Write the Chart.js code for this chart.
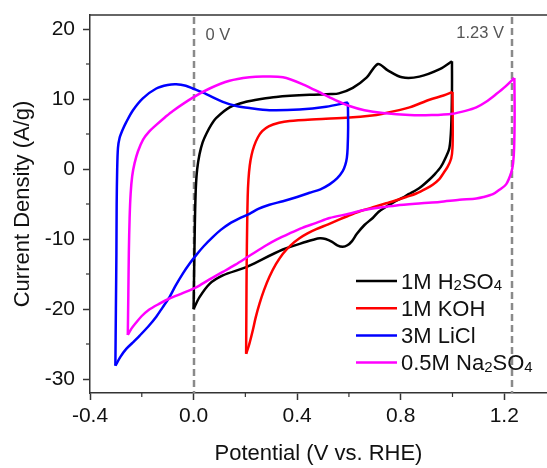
<!DOCTYPE html>
<html>
<head>
<meta charset="utf-8">
<script src="https://cdn.jsdelivr.net/npm/chart.js@4.4.1/dist/chart.umd.min.js"></script>
<style>
  html, body { margin: 0; padding: 0; background: #fff; }
  canvas { display: block; }
</style>
</head>
<body>
<canvas id="cvChart" width="547" height="468"></canvas>
<script>
// CV curves: [potential (V vs RHE), current density (A/g)]
const h2so4Fwd = [[0.000,-20.0],[0.002,-15],[0.004,-10],[0.006,-6],[0.009,-2.5],[0.014,0],[0.023,2.1],[0.035,3.8],[0.049,5.0],[0.068,6.3],[0.088,7.3],[0.139,8.8],[0.203,9.6],[0.26,10.0],[0.319,10.3],[0.448,10.6],[0.53,10.7],[0.561,10.8],[0.615,11.6],[0.669,13.1],[0.712,15.0],[0.750,14.1],[0.805,13.1],[0.872,13.2],[0.953,14.3],[0.998,15.4]];
const h2so4Rev = [[0.998,15.4],[0.998,11.0],[0.995,6.0],[0.988,3.0],[0.972,1.5],[0.955,0.3],[0.930,-0.8],[0.911,-1.5],[0.880,-2.5],[0.860,-3.0],[0.830,-3.6],[0.808,-4.1],[0.775,-4.7],[0.744,-5.4],[0.715,-6.1],[0.692,-7.0],[0.660,-8.0],[0.630,-9.3],[0.612,-10.3],[0.594,-10.9],[0.576,-11.1],[0.555,-10.9],[0.535,-10.4],[0.510,-10.0],[0.488,-9.9],[0.462,-10.1],[0.435,-10.4],[0.345,-11.5],[0.216,-13.8],[0.190,-14.2],[0.113,-15.2],[0.062,-16.4],[0.023,-18.3],[0.000,-20.0]];
const kohFwd = [[0.203,-26.4],[0.204,-20],[0.205,-14],[0.207,-8],[0.209,-4],[0.212,-1.5],[0.217,0.5],[0.224,2.0],[0.234,3.3],[0.248,4.5],[0.265,5.4],[0.29,6.1],[0.33,6.6],[0.371,6.85],[0.474,7.1],[0.602,7.35],[0.68,7.6],[0.731,7.9],[0.834,8.8],[0.911,9.9],[0.965,10.5],[1.0,11.0]];
const kohRev = [[1.0,11.0],[1.001,6],[1.0,3.0],[0.995,1.5],[0.981,0.3],[0.965,-0.6],[0.950,-1.4],[0.925,-2.2],[0.898,-2.8],[0.86,-3.5],[0.821,-4.0],[0.78,-4.5],[0.744,-4.9],[0.7,-5.4],[0.654,-5.9],[0.61,-6.5],[0.564,-7.2],[0.52,-7.9],[0.474,-8.6],[0.44,-9.2],[0.409,-9.9],[0.375,-10.9],[0.345,-12.1],[0.318,-13.6],[0.293,-15.4],[0.272,-17.3],[0.255,-19.2],[0.24,-21.2],[0.229,-23.0],[0.216,-24.9],[0.203,-26.4]];
const liclFwd = [[-0.302,-28.1],[-0.300,-20],[-0.298,-12],[-0.297,-5],[-0.295,0],[-0.292,3.0],[-0.286,4.4],[-0.274,5.6],[-0.260,6.7],[-0.234,8.4],[-0.196,10.1],[-0.144,11.5],[-0.1,12.0],[-0.067,12.1],[-0.03,11.9],[-0.003,11.5],[0.049,10.7],[0.113,9.6],[0.165,9.0],[0.216,8.7],[0.293,8.4],[0.409,8.5],[0.512,8.9],[0.596,9.5]];
const liclRev = [[0.596,9.5],[0.597,6],[0.595,3],[0.592,1.6],[0.586,0.6],[0.576,-0.3],[0.555,-1.3],[0.525,-2.2],[0.49,-2.9],[0.448,-3.4],[0.4,-4.0],[0.345,-4.6],[0.293,-5.1],[0.25,-5.7],[0.216,-6.4],[0.175,-7.1],[0.139,-7.8],[0.105,-8.7],[0.075,-9.7],[0.04,-11.0],[0.010,-12.3],[-0.015,-13.5],[-0.041,-14.9],[-0.07,-16.7],[-0.093,-18.3],[-0.12,-19.8],[-0.144,-21.1],[-0.175,-22.5],[-0.208,-23.8],[-0.235,-24.8],[-0.260,-25.7],[-0.282,-26.8],[-0.302,-28.1]];
const na2so4Fwd = [[-0.254,-23.7],[-0.252,-18],[-0.250,-12],[-0.247,-7],[-0.243,-3.5],[-0.237,-1.0],[-0.228,0.8],[-0.215,2.5],[-0.195,4.2],[-0.17,5.4],[-0.144,6.3],[-0.11,7.4],[-0.080,8.3],[-0.003,10.2],[0.062,11.5],[0.139,12.6],[0.216,13.1],[0.268,13.2],[0.345,13.1],[0.422,12.1],[0.5,10.7],[0.55,9.8],[0.602,9.0],[0.66,8.4],[0.731,8.0],[0.834,7.7],[0.92,7.7],[1.001,7.9],[1.05,8.3],[1.092,8.8],[1.13,9.6],[1.169,10.7],[1.205,11.8],[1.239,13.0]];
const na2so4Rev = [[1.239,13.0],[1.240,8.0],[1.238,3.0],[1.234,0.8],[1.227,-0.5],[1.207,-2.2],[1.18,-3.0],[1.156,-3.6],[1.12,-4.0],[1.092,-4.2],[1.027,-4.4],[0.95,-4.7],[0.88,-4.9],[0.783,-5.2],[0.72,-5.5],[0.654,-5.9],[0.6,-6.4],[0.525,-7.0],[0.474,-7.7],[0.42,-8.4],[0.371,-9.2],[0.32,-10.1],[0.281,-10.9],[0.216,-12.4],[0.16,-13.7],[0.113,-14.7],[0.06,-15.8],[0.010,-16.9],[-0.04,-17.7],[-0.093,-18.5],[-0.135,-19.3],[-0.176,-20.2],[-0.2,-21.0],[-0.221,-21.9],[-0.240,-22.8],[-0.254,-23.7]];

const seriesNames = ['1M H₂SO₄', '1M KOH', '3M LiCl', '0.5M Na₂SO₄'];
const seriesColors = ['#000000', '#ff0000', '#0000ff', '#ff00ff'];
const seriesScans = [[h2so4Fwd, h2so4Rev], [kohFwd, kohRev], [liclFwd, liclRev], [na2so4Fwd, na2so4Rev]];

const xTicks = [-0.4, 0, 0.4, 0.8, 1.2];
const xMinor = [-0.2, 0.2, 0.6, 1.0];
const yTicks = [-30, -20, -10, 0, 10, 20];
const yMinor = [-25, -15, -5, 5, 15];

const refLines = [0, 1.23];
const refLabels = ['0 V', '1.23 V'];

const FONT = "'Liberation Sans', Arial, sans-serif";
const AXIS = '#333';

// one dataset per scan direction so the turning points stay sharp
const datasets = [];
seriesScans.forEach((scans, i) => {
    scans.forEach(scan => {
        datasets.push({
            data: scan.map(p => ({ x: p[0], y: p[1] })),
            borderColor: seriesColors[i],
            borderWidth: 2.5,
            pointRadius: 0,
            showLine: true,
            tension: 0.3,
            order: 3 - i
        });
    });
});

// text with subscript digits drawn smaller
function drawRich(ctx, text, x, y, size) {
    const subs = { '₂': '2', '₄': '4' };
    const parts = text.match(/[₂₄]+|[^₂₄]+/g);
    parts.forEach(part => {
        if (subs[part[0]]) {
            const s = part.split('').map(c => subs[c]).join('');
            ctx.font = Math.round(size * 0.66) + 'px ' + FONT;
            ctx.fillText(s, x, y + 1.5);
            x += ctx.measureText(s).width;
        } else {
            ctx.font = size + 'px ' + FONT;
            ctx.fillText(part, x, y);
            x += ctx.measureText(part).width;
        }
    });
}

const extras = {
    id: 'extras',
    beforeDatasetsDraw(chart) {
        const { ctx, chartArea: a, scales: { x } } = chart;
        ctx.save();
        ctx.strokeStyle = '#8a8a8a';
        ctx.lineWidth = 2.5;
        ctx.setLineDash([7, 4]);
        refLines.forEach(v => {
            const px = Math.round(x.getPixelForValue(v));
            ctx.beginPath();
            ctx.moveTo(px, a.top + 2);
            ctx.lineTo(px, a.bottom);
            ctx.stroke();
        });
        ctx.restore();
    },
    afterDraw(chart) {
        const { ctx, chartArea: a, scales: { x, y } } = chart;
        ctx.save();
        // top frame line
        ctx.strokeStyle = AXIS;
        ctx.lineWidth = 1.5;
        ctx.beginPath();
        ctx.moveTo(a.left, a.top);
        ctx.lineTo(a.right, a.top);
        ctx.stroke();
        // minor ticks
        ctx.lineWidth = 1.2;
        xMinor.forEach(v => {
            const px = x.getPixelForValue(v);
            ctx.beginPath();
            ctx.moveTo(px, a.bottom);
            ctx.lineTo(px, a.bottom + 4);
            ctx.stroke();
        });
        yMinor.forEach(v => {
            const py = y.getPixelForValue(v);
            ctx.beginPath();
            ctx.moveTo(a.left, py);
            ctx.lineTo(a.left - 4, py);
            ctx.stroke();
        });
        // reference labels
        ctx.fillStyle = '#555';
        ctx.font = '16.5px ' + FONT;
        ctx.textBaseline = 'middle';
        ctx.textAlign = 'left';
        ctx.fillText(refLabels[0], x.getPixelForValue(refLines[0]) + 12, a.top + 20);
        ctx.textAlign = 'right';
        ctx.fillText(refLabels[1], x.getPixelForValue(refLines[1]) - 8, a.top + 18);
        // legend
        ctx.textAlign = 'left';
        ctx.textBaseline = 'alphabetic';
        ctx.fillStyle = '#111';
        seriesNames.forEach((name, i) => {
            const cy = 281 + i * 27.2;
            ctx.strokeStyle = seriesColors[i];
            ctx.lineWidth = 2.5;
            ctx.beginPath();
            ctx.moveTo(356, cy);
            ctx.lineTo(397, cy);
            ctx.stroke();
            drawRich(ctx, name, 401, cy + 7.8, 22);
        });
        ctx.restore();
    }
};

new Chart(document.getElementById('cvChart'), {
    type: 'scatter',
    data: { datasets },
    options: {
        responsive: false,
        animation: false,
        layout: { padding: { top: 15, right: 0, bottom: 0, left: 0 } },
        plugins: { legend: { display: false }, tooltip: { enabled: false } },
        scales: {
            x: {
                type: 'linear',
                min: -0.4,
                max: 1.365,
                afterBuildTicks: s => { s.ticks = xTicks.map(v => ({ value: v })); },
                afterFit: s => { s.height = 75; s.paddingLeft = 0; s.paddingRight = 0; },
                ticks: {
                    autoSkip: false,
                    maxRotation: 0,
                    padding: 4,
                    color: '#111',
                    font: { family: FONT, size: 21 },
                    callback: v => v.toFixed(1)
                },
                grid: { drawOnChartArea: false, tickLength: 7, tickWidth: 1.5, tickColor: AXIS },
                border: { color: AXIS, width: 1.5 },
                title: {
                    display: true,
                    text: 'Potential (V vs. RHE)',
                    color: '#111',
                    font: { family: FONT, size: 22 },
                    padding: { top: 0, bottom: 1 }
                }
            },
            y: {
                type: 'linear',
                min: -32,
                max: 22,
                afterBuildTicks: s => { s.ticks = yTicks.map(v => ({ value: v })); },
                afterFit: s => { s.width = 90; s.paddingTop = 0; s.paddingBottom = 0; },
                ticks: {
                    padding: 8,
                    color: '#111',
                    font: { family: FONT, size: 21 }
                },
                grid: { drawOnChartArea: false, tickLength: 7, tickWidth: 1.5, tickColor: AXIS },
                border: { color: AXIS, width: 1.5 },
                title: {
                    display: true,
                    text: 'Current Density (A/g)',
                    color: '#111',
                    font: { family: FONT, size: 22 },
                    padding: { top: 10, bottom: 0 }
                }
            }
        }
    },
    plugins: [extras]
});
</script>
</body>
</html>
